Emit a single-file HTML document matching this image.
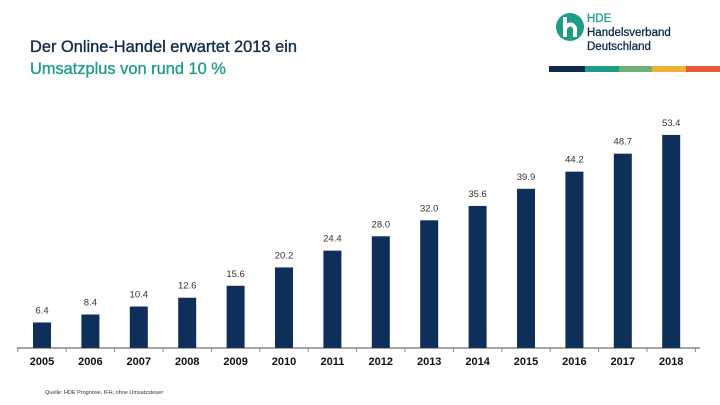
<!DOCTYPE html>
<html><head><meta charset="utf-8"><style>
body{margin:0;width:720px;height:405px;background:#fff;overflow:hidden;font-family:"Liberation Sans",sans-serif;position:relative}
.t{position:absolute;left:30px;font-size:16.4px;line-height:21px;-webkit-text-stroke:0.35px currentColor}
</style></head><body>
<div class="t" style="top:37px;color:#0e2b4b">Der Online-Handel erwartet 2018 ein</div>
<div class="t" style="top:59px;color:#1f9c88">Umsatzplus von rund 10 %</div>
<svg width="720" height="405" style="position:absolute;left:0;top:0">
<g>
<circle cx="570" cy="27" r="14" fill="#1f9c88"/>
<path d="M565 17 v20 M565 28 q6 -7 10 0 v9" stroke="#fff" stroke-width="4" fill="none"/>
<text x="587" y="22" font-size="11.5" fill="#1f9c88" font-family="Liberation Sans" stroke="#1f9c88" stroke-width="0.3">HDE</text>
<text x="587" y="36" font-size="11.5" fill="#0e2b4b" font-family="Liberation Sans" stroke="#0e2b4b" stroke-width="0.3">Handelsverband</text>
<text x="587" y="50" font-size="11.5" fill="#0e2b4b" font-family="Liberation Sans" stroke="#0e2b4b" stroke-width="0.3">Deutschland</text>
</g>
<g>
<rect x="549" y="66" width="36" height="6" fill="#0e2b4b"/>
<rect x="585" y="66" width="34" height="6" fill="#1f9c88"/>
<rect x="619" y="66" width="33" height="6" fill="#6fb07a"/>
<rect x="652" y="66" width="34" height="6" fill="#f2b134"/>
<rect x="686" y="66" width="34" height="6" fill="#e4593a"/>
</g>
<g id="plot"></g>
<text x="45" y="394" font-size="5.5" fill="#333">Quelle: HDE Prognose, IFH, ohne Umsatzsteuer</text>
</svg>
<script>
const years=["2005","2006","2007","2008","2009","2010","2011","2012","2013","2014","2015","2016","2017","2018"];
const values=[6.4,8.4,10.4,12.6,15.6,20.2,24.4,28.0,32.0,35.6,39.9,44.2,48.7,53.4];
const labels=["6.4","8.4","10.4","12.6","15.6","20.2","24.4","28.0","32.0","35.6","39.9","44.2","48.7","53.4"];
const base=348,scale=3.99,x0=42,step=48.4,bw=18;
const xs=i=>x0+i*step, ys=v=>base-v*scale;
const g=document.getElementById('plot'),NS="http://www.w3.org/2000/svg";
function mk(t,a){const e=document.createElementNS(NS,t);for(const k in a)e.setAttribute(k,a[k]);g.appendChild(e);return e;}
const ax=mk('line',{x1:17,x2:700,y1:base,y2:base,stroke:'#888','stroke-width':1.5});


for(let i=0;i<=years.length;i++){const tk=mk('line',{x1:xs(i)-step/2,x2:xs(i)-step/2,y1:base,y2:base+4,stroke:'#888'});

}
years.forEach((y,i)=>{
 const r=mk('rect',{x:xs(i)-bw/2,y:ys(values[i]),width:bw,height:base-ys(values[i]),fill:'#0e2f5a'});
 
 
 const l=mk('text',{x:xs(i),y:ys(values[i])-9,'font-size':9.5,'text-anchor':'middle',fill:'#333'});l.textContent=labels[i];
 
 
 const t=mk('text',{x:xs(i),y:base+17,'font-size':11,'font-weight':'bold','text-anchor':'middle',fill:'#111'});t.textContent=y;
 
 
});
</script>
</body></html>
